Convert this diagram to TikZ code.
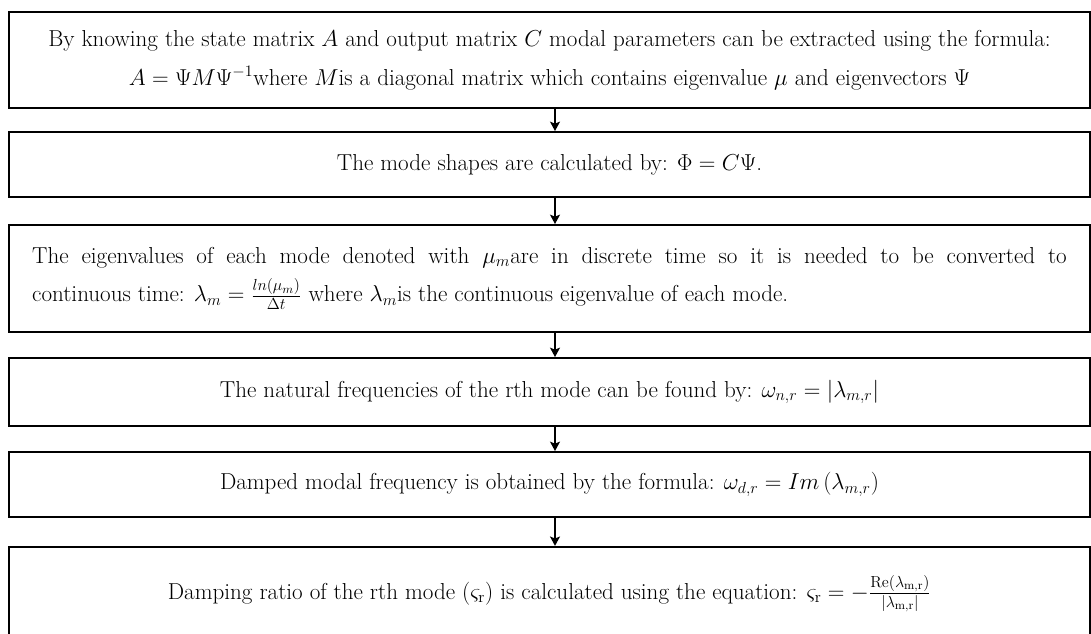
\documentclass[tikz,border=0pt]{standalone}
\usepackage{amsmath,amssymb}
\usetikzlibrary{arrows.meta}
\tikzset{
  stepbox/.style={
    draw,
    line width=1.5pt,
    inner sep=0pt,
    minimum width=810.75pt,
    align=center
  },
  flow/.style={
    -{Stealth[length=7pt,width=7.5pt,inset=1.5pt]},
    line width=1.1pt
  },
  every picture/.style={
    font=\fontsize{17.3}{29}\selectfont
  }
}
\begin{document}
\begin{tikzpicture}[x=0.75pt,y=-0.75pt]
  \useasboundingbox (0,0) rectangle (1091,633);
  \clip (0,0) rectangle (1091,633);
  \node[stepbox,minimum height=72pt] (b1) at (549.5,60)
    {By knowing the state matrix $A$ and output matrix $C$ modal parameters can be extracted using the formula:\\
     $A = \Psi M \Psi^{-1}$where $M$is a diagonal matrix which contains eigenvalue $\mu$ and eigenvectors $\Psi$};
  \node[stepbox,minimum height=48.75pt] (b2) at (549.5,164.5)
    {The mode shapes are calculated by: $\Phi = C\Psi$.};
  \node[stepbox,minimum height=80.25pt,text width=776pt,align=justify] (b3) at (549.5,278.5)
    {The eigenvalues of each mode denoted with $\mu_m$are in discrete time so it is needed to be converted to\linebreak continuous time: $\lambda_m = \frac{ln(\mu_m)}{\Delta t}$ where $\lambda_m$is the continuous eigenvalue of each mode.};
  \node[stepbox,minimum height=51pt] (b4) at (549.5,392)
    {The natural frequencies of the rth mode can be found by: $\omega_{n,r} = \left|\lambda_{m,r}\right|$};
  \node[stepbox,minimum height=48.75pt] (b5) at (549.5,484.5)
    {Damped modal frequency is obtained by the formula: $\omega_{d,r} = Im\left(\lambda_{m,r}\right)$};
  \node[stepbox,minimum height=70pt] (b6) at (549.5,593.5)
    {Damping ratio of the rth mode ($\varsigma_{\mathrm{r}}$) is calculated using the equation: $\varsigma_{\mathrm{r}} = -\frac{\mathrm{Re}(\lambda_{\mathrm{m,r}})}{|\lambda_{\mathrm{m,r}}|}$};
  % arrows between the steps
  \coordinate (ax) at (555,0);
  \foreach \i/\j in {1/2,2/3,3/4,4/5,5/6}{
    \draw[flow] (b\i.south -| ax) -- (b\j.north -| ax);
  }
\end{tikzpicture}
\end{document}
